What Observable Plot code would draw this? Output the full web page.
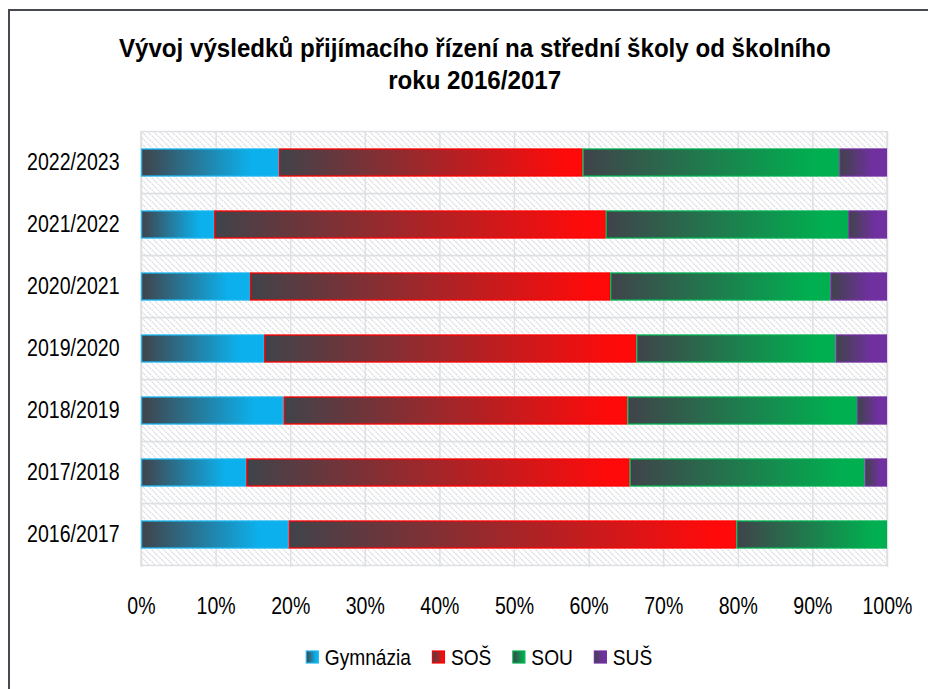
<!DOCTYPE html>
<html>
<head>
<meta charset="utf-8">
<script src="https://cdn.jsdelivr.net/npm/d3@7"></script>
<script src="https://cdn.jsdelivr.net/npm/@observablehq/plot@0.6"></script>
<style>
  html, body { margin: 0; padding: 0; background: #fff; overflow: hidden; width: 928px; height: 689px; }
  body { font-family: "Liberation Sans", Arial, sans-serif; position: relative; }
  #border { position: absolute; left: 8px; top: 9px; width: 940px; height: 700px; border-left: 2px solid #464a50; border-top: 2px solid #464a50; box-sizing: border-box; pointer-events: none; }
  #title { height: 110px; box-sizing: border-box; padding-top: 32px; padding-left: 22px; text-align: center; font-weight: bold; font-size: 25px; line-height: 32px; color: #000; }
  #title span { display: inline-block; transform: scaleX(0.965); transform-origin: center; white-space: nowrap; }
  #chart, #legend { line-height: 0; }
</style>
</head>
<body>
<div id="border"></div>
<div id="title"><span>Vývoj výsledků přijímacího řízení na střední školy od školního</span><br><span>roku 2016/2017</span></div>
<div id="chart"></div>
<div id="legend"></div>
<script>
// Data (percent shares per school year)
const years = ["2016/2017", "2017/2018", "2018/2019", "2019/2020", "2020/2021", "2021/2022", "2022/2023"];
const series = ["Gymnázia", "SOŠ", "SOU", "SUŠ"];
const gymnazia = [19.8, 14.1, 19.1, 16.5, 14.6, 9.8, 18.5];
const sos      = [60.0, 51.4, 46.1, 49.9, 48.3, 52.5, 40.7];
const sou      = [20.2, 31.5, 30.8, 26.7, 29.5, 32.5, 34.4];
const sus      = [0.0, 3.0, 4.0, 6.9, 7.6, 5.2, 6.4];
const xTicks = [0, 0.1, 0.2, 0.3, 0.4, 0.5, 0.6, 0.7, 0.8, 0.9, 1.0];

const colors = ["#0cb0ec", "#ff0a0a", "#00b050", "#7030a0"];
const strokes = ["#1ab6f0", "#ff0000", "#00b050", "#7030a0"];
const fullAt = [0.8, 0.95, 0.92, 0.7];
const gray = "#40434a";
const values = [gymnazia, sos, sou, sus];
const FONT = '"Liberation Sans", Arial, sans-serif';

// Stacked rows built from the arrays
const rows = [];
years.forEach((yr, i) => {
  let acc = 0;
  series.forEach((s, k) => {
    const v = values[k][i] / 100;
    rows.push({year: yr, series: s, k, x1: acc, x2: acc + v});
    acc += v;
  });
});

function defsHTML() {
  let html = `<defs>
    <pattern id="hatch" patternUnits="userSpaceOnUse" width="6" height="6">
      <rect width="6" height="6" fill="#ffffff"/>
      <path d="M0,0 L6,6 M-1,5 L1,7 M5,-1 L7,1" stroke="#d9dadd" stroke-width="1.3" stroke-dasharray="1.6,0.9"/>
    </pattern>`;
  colors.forEach((c, k) => {
    html += `<linearGradient id="grad${k}" x1="0" x2="1" y1="0" y2="0">
      <stop offset="0" stop-color="${gray}"/>
      <stop offset="${fullAt[k]}" stop-color="${c}"/>
      <stop offset="1" stop-color="${c}"/>
    </linearGradient>`;
  });
  return html + `</defs>`;
}
const defsMark = () => {
  const g = document.createElementNS("http://www.w3.org/2000/svg", "g");
  g.innerHTML = defsHTML();
  return g;
};

function condense(root, f) {
  root.querySelectorAll("text").forEach(t => {
    const w = t.getComputedTextLength();
    if (w > 0) {
      t.setAttribute("textLength", (w * f).toFixed(2));
      t.setAttribute("lengthAdjust", "spacingAndGlyphs");
    }
  });
}

const marginTop = 21, marginBottom = 70, plotH = 436;
const step = plotH / years.length;
const paddingInner = 0.56;
const bandInset = -(step * paddingInner) / 2;

const chart = Plot.plot({
  width: 928,
  height: marginTop + plotH + marginBottom,
  marginLeft: 141,
  marginRight: 41,
  marginTop,
  marginBottom,
  style: {fontFamily: FONT, fontSize: "23px", color: "#000", background: "transparent", overflow: "visible"},
  x: {domain: [0, 1], ticks: xTicks, tickFormat: d => Math.round(d * 100) + "%", tickSize: 0, tickPadding: 30, label: null},
  y: {domain: years.slice().reverse(), paddingInner, paddingOuter: paddingInner / 2, align: 0.5, tickSize: 0, tickPadding: 22, label: null},
  marks: [
    defsMark,
    Plot.barX(years, {x1: 0, x2: 1, y: d => d, fill: "url(#hatch)", stroke: "#dfe0e3", strokeWidth: 1.5, insetTop: bandInset, insetBottom: bandInset}),
    Plot.ruleX(xTicks, {stroke: "#dfe0e3", strokeWidth: 1.5}),
    ...series.map((s, k) => Plot.barX(rows.filter(r => r.k === k && r.x2 > r.x1), {
      x1: "x1", x2: "x2", y: "year",
      fill: `url(#grad${k})`, stroke: strokes[k], strokeWidth: 1.3,
      insetLeft: 0.6, insetRight: 0.6
    }))
  ]
});
document.getElementById("chart").appendChild(chart);
condense(chart, 0.85);

// Legend (separate SVG below the chart)
const legendCenterX = 479, legendY = 20, sw = 13, gapSw = 6, gapItem = 21, legendF = 0.87;
const lsvg = d3.select("#legend").append("svg")
  .attr("width", 928).attr("height", 52)
  .style("display", "block");
lsvg.html(defsHTML().replace(/id="grad/g, 'id="lgrad').replace(/id="hatch"/, 'id="lhatch"'));
const items = lsvg.append("g");
let xPos = 0;
const placed = [];
series.forEach((s, k) => {
  const g = items.append("g");
  g.append("rect")
    .attr("x", xPos + 0.5).attr("y", legendY - sw / 2 + 0.5)
    .attr("width", sw - 1).attr("height", sw - 1)
    .attr("fill", `url(#lgrad${k})`).attr("stroke", strokes[k]).attr("stroke-width", 1.2);
  const t = g.append("text")
    .attr("x", xPos + sw + gapSw).attr("y", legendY)
    .attr("dy", "0.35em")
    .style("font-family", FONT).style("font-size", "22px").attr("fill", "#000")
    .text(s);
  const w = t.node().getComputedTextLength() * legendF;
  t.attr("textLength", w.toFixed(2)).attr("lengthAdjust", "spacingAndGlyphs");
  xPos += sw + gapSw + w + gapItem;
});
const totalW = xPos - gapItem;
items.attr("transform", `translate(${legendCenterX - totalW / 2},0)`);
</script>
</body>
</html>
